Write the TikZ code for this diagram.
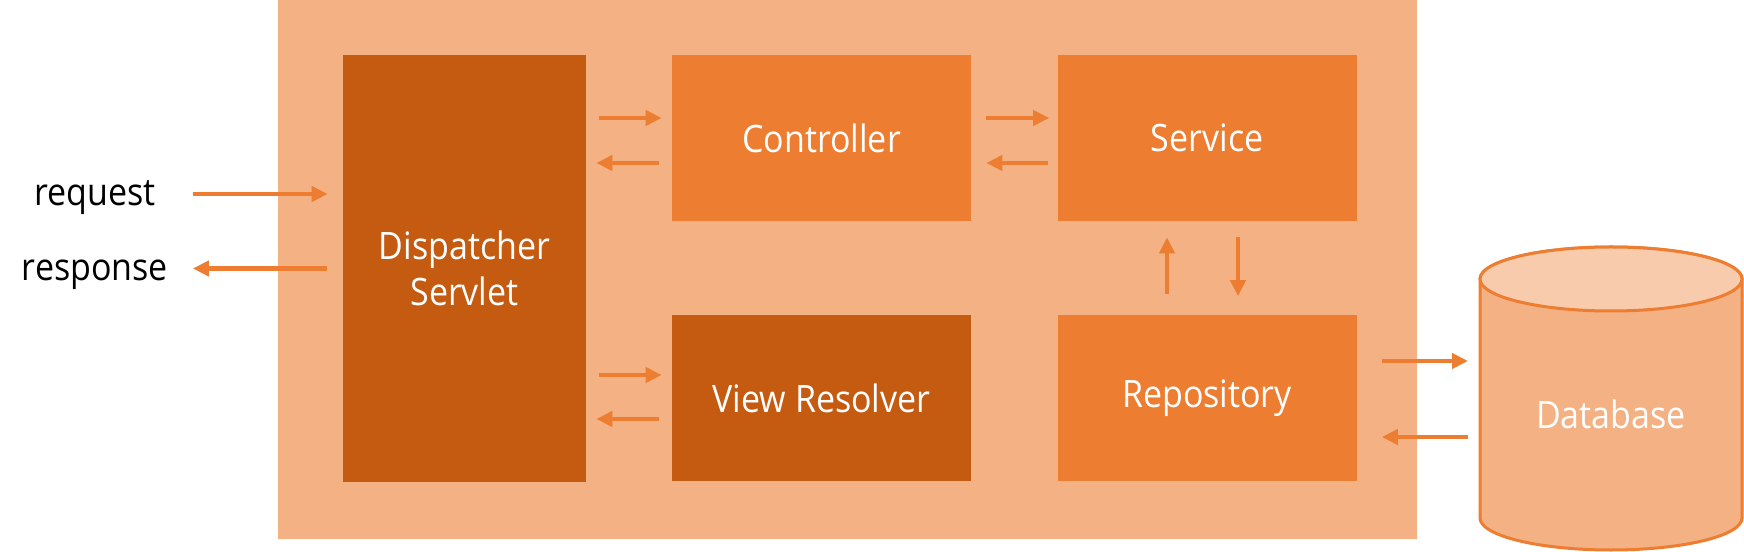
\documentclass[tikz,border=0pt]{standalone}
\usepackage{fontspec}
\setmainfont{Open Sans}[FakeStretch=0.9]
\usepackage{tikz}
\usetikzlibrary{arrows.meta}
\usetikzlibrary{positioning,backgrounds}
\tikzset{
    block/.style={
           rectangle,
           fill=boxorange,
           minimum width=5.98cm,
           minimum height=3.32cm,
           inner sep=2pt,
           text centered,
           text=white,
           font=\fontsize{21.5}{26.5}\selectfont
           },
    io/.style={
           minimum width=3.4cm,
           text height=2.65ex,
           text depth=0.2ex,
           text=black,
           font=\fontsize{21.5}{26.5}\selectfont
           },
    flow/.style={->, draw=boxorange, line width=0.09cm, shorten <=0.26cm, shorten >=0.2cm},
    dbline/.style={draw=boxorange, line width=0.06cm},
}
\definecolor{framebg}{HTML}{F4B183}
\definecolor{boxorange}{HTML}{ED7D31}
\definecolor{boxdark}{HTML}{C55A11}
\definecolor{dbtop}{HTML}{F8CBAD}

\begin{document}
\begin{tikzpicture}[>={Triangle[length=0.32cm,width=0.3cm]}]

\useasboundingbox (0,0) rectangle (34.88,-11.04);

% the container
\fill[framebg] (5.56,0) rectangle (28.34,-10.78);

\node[block, fill=boxdark, minimum width=4.86cm, minimum height=8.54cm, align=center] (DISPATCHER) at (9.29,-5.37) {Dispatcher\\Servlet};

\node[block, right of=DISPATCHER, node distance=7.14cm, yshift=2.61cm] (CONTROLLER) {Controller};

\node[block, right of=CONTROLLER, node distance=7.71cm] (SERVICE) {Service};

\node[block, below of=CONTROLLER, node distance=5.21cm, fill=boxdark] (VIEWRES) {View Resolver};

\node[block, below of=SERVICE, node distance=5.21cm] (REPOSITORY) {Repository};

% database: text node, cylinder drawn behind it
\node[block, fill=none, right of=REPOSITORY, node distance=8.08cm, yshift=-0.32cm, minimum width=5.24cm, minimum height=5.42cm, inner sep=0pt, outer sep=0pt] (DB) {Database};

\node[io, left of=DISPATCHER, node distance=7.39cm, yshift=1.49cm] (REQUEST) {request};
\node[io, left of=DISPATCHER, node distance=7.39cm] (RESPONSE) {response};

\begin{scope}[on background layer]
\draw[dbline, fill=framebg] (DB.north west) -- ([yshift=0.64cm]DB.south west) arc[start angle=180, end angle=360, x radius=2.62cm, y radius=0.64cm] -- (DB.north east) arc[start angle=0, end angle=180, x radius=2.62cm, y radius=0.64cm] -- cycle;
\draw[dbline, fill=dbtop] (DB.north) ellipse [x radius=2.62cm, y radius=0.64cm];
\end{scope}

\path ([yshift=0.4cm]CONTROLLER.west -| DISPATCHER.east) edge[flow] ([yshift=0.4cm]CONTROLLER.west)
([yshift=-0.5cm]CONTROLLER.west) edge[flow] ([yshift=-0.5cm]CONTROLLER.west -| DISPATCHER.east)
([yshift=0.4cm]CONTROLLER.east) edge[flow, shorten <=0.3cm, shorten >=0.16cm] ([yshift=0.4cm]SERVICE.west)
([yshift=-0.5cm]SERVICE.west) edge[flow, shorten <=0.18cm, shorten >=0.3cm] ([yshift=-0.5cm]CONTROLLER.east)
([yshift=0.47cm]VIEWRES.west -| DISPATCHER.east) edge[flow] ([yshift=0.47cm]VIEWRES.west)
([yshift=-0.41cm]VIEWRES.west) edge[flow] ([yshift=-0.41cm]VIEWRES.west -| DISPATCHER.east)
([xshift=0.62cm]SERVICE.south) edge[flow, shorten <=0.32cm, shorten >=0.38cm] ([xshift=0.62cm]REPOSITORY.north)
([xshift=-0.8cm]REPOSITORY.north) edge[flow, shorten <=0.42cm, shorten >=0.32cm] ([xshift=-0.8cm]SERVICE.south)
([yshift=0.75cm]REPOSITORY.east) edge[flow, shorten <=0.5cm, shorten >=0.24cm] ([yshift=0.75cm]REPOSITORY.east -| DB.west)
([yshift=-0.77cm]REPOSITORY.east -| DB.west) edge[flow, shorten <=0.24cm, shorten >=0.5cm] ([yshift=-0.77cm]REPOSITORY.east)
(REQUEST.east) edge[flow, shorten >=0.3cm] (REQUEST.east -| DISPATCHER.west)
(RESPONSE.east -| DISPATCHER.west) edge[flow, shorten <=0.32cm, shorten >=0.25cm] (RESPONSE.east)
;

\end{tikzpicture}
\end{document}
